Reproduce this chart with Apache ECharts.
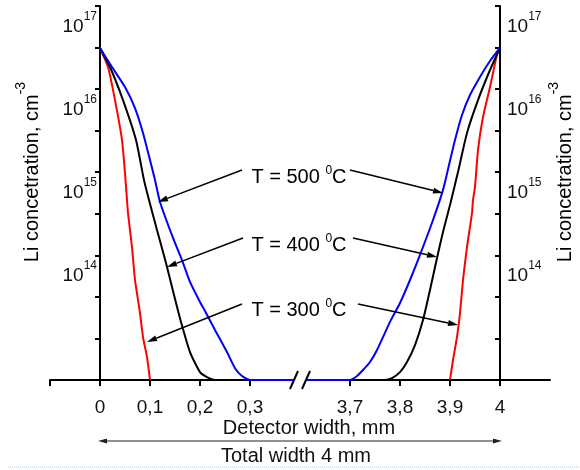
<!DOCTYPE html>
<html><head><meta charset="utf-8">
<script src="https://cdn.jsdelivr.net/npm/echarts@6/dist/echarts.min.js"></script>
<style>html,body{margin:0;padding:0;background:#fff}#c{width:580px;height:470px}</style>
</head><body><div id="c"></div>
<script>
// ---- data: depth in mm, Li concentration in cm^-3 ----
const t300LeftMm   = [0, 0.016, 0.03, 0.044, 0.05, 0.054, 0.056, 0.064, 0.07, 0.08, 0.086, 0.094, 0.1];
const t300LeftConc = [5.56e16, 3.28e16, 1.31e16, 4.34e15, 1.74e15, 8.24e14, 5.74e14, 2.24e14, 8.98e13, 3.60e13, 1.85e13, 1.06e13, 5.63e12];
const t300RightMm   = [3.9, 3.906, 3.914, 3.92, 3.926, 3.934, 3.944, 3.946, 3.95, 3.956, 3.966, 3.98, 3.996, 4.0];
const t300RightConc = [5.63e12, 9.8e12, 1.85e13, 3.60e13, 8.98e13, 2.24e14, 5.74e14, 8.24e14, 1.18e15, 3.29e15, 8.2e15, 1.88e16, 5.26e16, 5.56e16];

const t400LeftMm   = [0, 0.02, 0.046, 0.072, 0.088, 0.098, 0.114, 0.132, 0.148, 0.162, 0.18, 0.2, 0.214, 0.23];
const t400LeftConc = [5.56e16, 3.28e16, 1.31e16, 4.34e15, 1.43e15, 8.24e14, 3.59e14, 1.44e14, 5.93e13, 2.81e13, 1.22e13, 7.0e12, 6.1e12, 5.63e12];
const t400RightMm   = [3.77, 3.784, 3.8, 3.814, 3.83, 3.846, 3.86, 3.874, 3.886, 3.9, 3.916, 3.934, 3.956, 3.98, 4.0];
const t400RightConc = [5.63e12, 5.94e12, 7.0e12, 9.27e12, 1.48e13, 2.96e13, 6.81e13, 1.65e14, 3.40e14, 7.18e14, 1.79e15, 5.27e15, 1.31e16, 3.02e16, 5.56e16];

const t500LeftMm   = [0, 0.024, 0.05, 0.07, 0.086, 0.1, 0.11, 0.12, 0.146, 0.164, 0.18, 0.2, 0.21, 0.23, 0.254, 0.27, 0.284, 0.3];
const t500LeftConc = [5.56e16, 3.28e16, 1.88e16, 1.05e16, 5.27e15, 2.49e15, 1.43e15, 7.8e14, 2.88e14, 1.56e14, 8.5e13, 4.88e13, 3.80e13, 2.25e13, 1.22e13, 7.8e12, 6.28e12, 5.63e12];
const t500RightMm   = [3.7, 3.714, 3.726, 3.74, 3.754, 3.78, 3.8, 3.82, 3.84, 3.866, 3.886, 3.898, 3.91, 3.924, 3.94, 3.96, 3.98, 4.0];
const t500RightConc = [5.63e12, 6.28e12, 7.41e12, 9.27e12, 1.29e13, 2.81e13, 4.75e13, 8.98e13, 1.80e14, 4.73e14, 1.09e15, 2.17e15, 4.34e15, 8.68e15, 1.51e16, 2.49e16, 3.87e16, 5.56e16];

// axis ticks / labels
const xTickMm     = [-0.1, 0, 0.1, 0.2, 0.3, 3.7, 3.8, 3.9, 4.0, 4.1];
const xLabelMm    = [0, 0.1, 0.2, 0.3, 3.7, 3.8, 3.9, 4.0];
const xLabelText  = ['0', '0,1', '0,2', '0,3', '3,7', '3,8', '3,9', '4'];
const yTickExp    = [12.75, 13.25, 13.75, 14.25, 14.75, 15.25, 15.75, 16.25, 16.75, 17.25];
const yLabelExp   = [14, 15, 16, 17];
const yMinExp = 12.75, yMaxExp = 17.25;

// annotations: [label temperature, tail(mm, conc), tip(mm, conc)]
const annTemps = ['500', '400', '300'];
const annArrows = [
  [[0.284, 1.89e15], [0.116, 7.8e14]], [[3.70, 1.89e15], [3.886, 1.0e15]],
  [[0.286, 2.88e14], [0.134, 1.29e14]], [[3.706, 2.88e14], [3.874, 1.70e14]],
  [[0.284, 4.61e13], [0.094, 1.61e13]], [[3.716, 4.61e13], [3.916, 2.58e13]]
];

// ---- broken x axis: 0..0.3 | 3.7..4 ----
const BREAK_FROM = 0.3, BREAK_TO = 3.7, BREAK_GAP = 0.2;
function toU(mm) { return mm <= BREAK_FROM ? mm : mm - (BREAK_TO - BREAK_FROM) + BREAK_GAP; }
function pts(mm, conc) { return mm.map((m, i) => [toU(m), Math.log10(conc[i])]); }
const uRound = v => Math.round(v * 1000) / 1000;

const FONT = 'Liberation Sans, Arial, sans-serif';
const chart = echarts.init(document.getElementById('c'), null, {renderer: 'canvas'});

const yLabelRich = {
  b: {fontSize: 19, fontFamily: FONT, color: '#111', lineHeight: 32},
  s: {fontSize: 12, fontFamily: FONT, color: '#111', lineHeight: 14, verticalAlign: 'top'}
};
function yAxisCfg(pos) {
  return {
    type: 'value', position: pos, offset: -50, min: yMinExp, max: yMaxExp,
    axisLine: {show: true, onZero: false, lineStyle: {color: '#000', width: 2}},
    axisTick: {show: true, customValues: yTickExp, length: 5, inside: pos === 'right', lineStyle: {color: '#000', width: 2}},
    axisLabel: {customValues: yLabelExp, margin: pos === 'right' ? 7 : 3,
      formatter: v => '{b|10}{s|' + Math.round(v) + '}', rich: yLabelRich},
    splitLine: {show: false}
  };
}
const lineBase = {type: 'line', showSymbol: false, symbol: 'none', smooth: 0.2};

const option = {
  animation: false,
  backgroundColor: '#fff',
  grid: {left: 50, top: 6, width: 500, height: 374, containLabel: false},
  xAxis: {
    type: 'value', min: toU(-0.1), max: toU(4.1),
    axisLine: {onZero: false, lineStyle: {color: '#000', width: 2}},
    axisTick: {customValues: xTickMm.map(m => uRound(toU(m))), length: 6, lineStyle: {color: '#000', width: 2}},
    axisLabel: {
      customValues: xLabelMm.map(m => uRound(toU(m))), margin: 18, fontSize: 19, fontFamily: FONT, color: '#111',
      formatter: v => { const i = xLabelMm.findIndex(m => Math.abs(uRound(toU(m)) - v) < 1e-6); return i >= 0 ? xLabelText[i] : ''; }
    },
    splitLine: {show: false}
  },
  yAxis: [yAxisCfg('left'), yAxisCfg('right')],
  series: [
    Object.assign({name: '300', lineStyle: {color: '#ff0000', width: 2}, z: 3,
      data: pts(t300LeftMm, t300LeftConc).concat([['-', '-']], pts(t300RightMm, t300RightConc))}, lineBase),
    Object.assign({name: '400', lineStyle: {color: '#000000', width: 2}, z: 4,
      data: pts(t400LeftMm, t400LeftConc).concat(pts(t400RightMm, t400RightConc))}, lineBase),
    Object.assign({name: '500', lineStyle: {color: '#0000ff', width: 2}, z: 5,
      data: pts(t500LeftMm, t500LeftConc).concat(pts(t500RightMm, t500RightConc))}, lineBase)
  ]
};
chart.setOption(option);

// ---- overlays ----
const px = (mm, conc) => chart.convertToPixel({gridIndex: 0}, [toU(mm), Math.log10(conc)]);
const g = [];
function arrow(p0, p1, hl, hw, color, lw) {
  const dx = p1[0] - p0[0], dy = p1[1] - p0[1], L = Math.hypot(dx, dy), ux = dx / L, uy = dy / L;
  const bx = p1[0] - ux * hl, by = p1[1] - uy * hl;
  g.push({type: 'line', z: 20, shape: {x1: p0[0], y1: p0[1], x2: bx, y2: by}, style: {stroke: color, lineWidth: lw}});
  g.push({type: 'polygon', z: 20, shape: {points: [[p1[0], p1[1]], [bx - uy * hw, by + ux * hw], [bx + uy * hw, by - ux * hw]]}, style: {fill: color}});
}
annArrows.forEach(a => arrow(px(a[0][0], a[0][1]), px(a[1][0], a[1][1]), 10, 3, '#000', 1.5));

const annRich = {
  b: {fontSize: 20, fontFamily: FONT, color: '#111', lineHeight: 24},
  s: {fontSize: 12, fontFamily: FONT, color: '#111', lineHeight: 14, verticalAlign: 'top'}
};
const annY = [177, 245, 310];
annTemps.forEach((t, i) => g.push({type: 'text', z: 21, x: 299, y: annY[i],
  style: {text: '{b|T = ' + t + ' }{s|0}{b|C}', rich: annRich, align: 'center', verticalAlign: 'middle'}}));

// axis names
const nameRich = {
  b: {fontSize: 20, fontFamily: FONT, color: '#111', lineHeight: 36},
  s: {fontSize: 14, fontFamily: FONT, color: '#111', lineHeight: 16, verticalAlign: 'top'}
};
[[32, 172], [565, 172]].forEach(p => g.push({type: 'text', z: 21, x: p[0], y: p[1], rotation: Math.PI / 2,
  style: {text: '{b|Li concetration, cm}{s|-3}', rich: nameRich, align: 'center', verticalAlign: 'middle'}}));

g.push({type: 'text', z: 21, x: 309, y: 428, style: {text: 'Detector width, mm', fontSize: 20, fontFamily: FONT, fill: '#111', align: 'center', verticalAlign: 'middle'}});
g.push({type: 'text', z: 21, x: 296, y: 456, style: {text: 'Total width 4 mm', fontSize: 20, fontFamily: FONT, fill: '#111', align: 'center', verticalAlign: 'middle'}});
// total width double arrow
arrow([300, 441], [98, 441], 9, 2.5, '#222', 1);
arrow([300, 441], [502, 441], 9, 2.5, '#222', 1);
// dotted line at bottom
g.push({type: 'line', z: 1, shape: {x1: 8, y1: 467, x2: 580, y2: 467}, style: {stroke: '#a9c4e6', lineWidth: 1, lineDash: [1, 1]}});

// break marks on x axis
const bc = chart.convertToPixel({gridIndex: 0}, [(toU(BREAK_FROM) + toU(BREAK_TO)) / 2, yMinExp]);
g.push({type: 'rect', z: 19, shape: {x: bc[0] - 6, y: bc[1] - 3, width: 12, height: 6}, style: {fill: '#fff'}});
[-6, 6].forEach(d => g.push({type: 'line', z: 20, shape: {x1: bc[0] + d - 4, y1: bc[1] + 9, x2: bc[0] + d + 4, y2: bc[1] - 9}, style: {stroke: '#000', lineWidth: 2}}));

chart.setOption({graphic: {elements: g}});
</script></body></html>
